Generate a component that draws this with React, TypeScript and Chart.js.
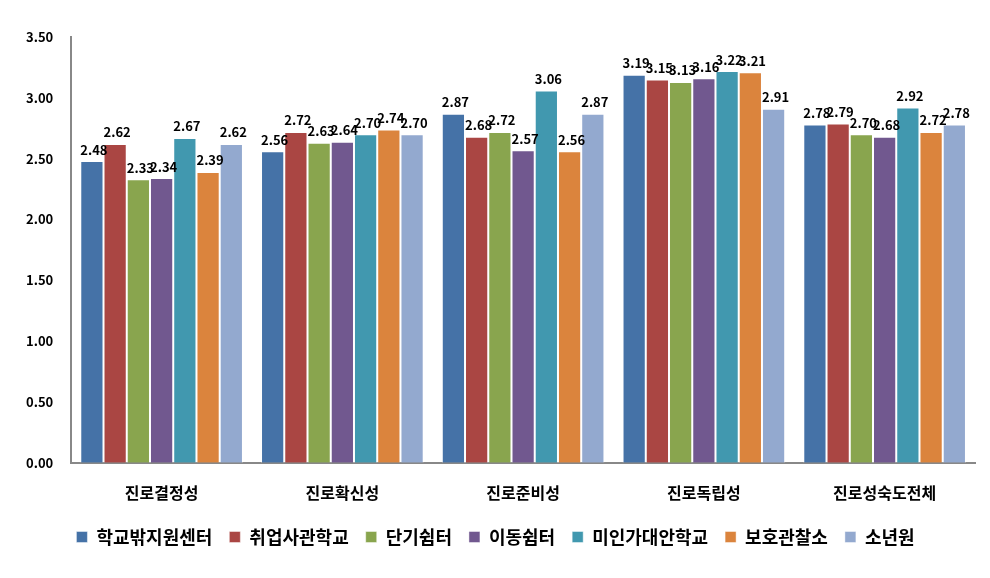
import React, { useEffect, useRef } from "react";
import { Chart, registerables } from "chart.js";

Chart.register(...registerables);

const categories = ["진로결정성", "진로확신성", "진로준비성", "진로독립성", "진로성숙도전체"];
const seriesNames = ["학교밖지원센터", "취업사관학교", "단기쉼터", "이동쉼터", "미인가대안학교", "보호관찰소", "소년원"];
const s1 = [2.48, 2.56, 2.87, 3.19, 2.78];
const s2 = [2.62, 2.72, 2.68, 3.15, 2.79];
const s3 = [2.33, 2.63, 2.72, 3.13, 2.70];
const s4 = [2.34, 2.64, 2.57, 3.16, 2.68];
const s5 = [2.67, 2.70, 3.06, 3.22, 2.92];
const s6 = [2.39, 2.74, 2.56, 3.21, 2.72];
const s7 = [2.62, 2.70, 2.87, 2.91, 2.78];
const colors = ["#4572A7", "#AA4643", "#89A54E", "#71588F", "#4198AF", "#DB843D", "#93A9CF"];

const FONT = "'Noto Sans CJK KR', 'Noto Sans', sans-serif";

const labelPlugin = {
  id: "barLabels",
  afterDatasetsDraw(chart: any) {
    const ctx = chart.ctx;
    ctx.save();
    ctx.font = "bold 13px " + FONT;
    ctx.fillStyle = "#000";
    ctx.textAlign = "center";
    ctx.textBaseline = "bottom";
    chart.data.datasets.forEach((ds: any, i: number) => {
      const meta = chart.getDatasetMeta(i);
      meta.data.forEach((el: any, j: number) => {
        ctx.fillText(Number(ds.data[j]).toFixed(2), el.x + 2, el.y - 5);
      });
    });
    ctx.restore();
  },
};

const legendShift = {
  id: "legendShift",
  afterLayout(chart: any) {
    const lg = chart.legend;
    if (lg) {
      lg.top -= 5;
      lg.bottom -= 5;
    }
  },
};

export default function App() {
  const ref = useRef<HTMLCanvasElement>(null);
  useEffect(() => {
    document.body.style.margin = "0";
    const all = [s1, s2, s3, s4, s5, s6, s7];
    const chart = new Chart(ref.current!, {
      type: "bar",
      data: {
        labels: categories,
        datasets: all.map((d, i) => ({
          label: seriesNames[i],
          data: d,
          backgroundColor: colors[i],
          borderColor: "rgba(255,255,255,0.6)",
          borderWidth: { left: 1, right: 1, top: 1, bottom: 0 },
          categoryPercentage: 0.9,
          barPercentage: 1.0,
        })),
      },
      options: {
        animation: false,
        responsive: false,
        maintainAspectRatio: false,
        layout: { padding: { top: 37, right: 15, left: 16, bottom: 17 } },
        plugins: {
          legend: {
            position: "bottom",
            labels: {
              font: { size: 18, weight: "bold", family: FONT },
              color: "#000",
              boxWidth: 11,
              boxHeight: 11,
              padding: 17,
            },
          },
          tooltip: { enabled: false },
        },
        scales: {
          x: {
            grid: { display: false },
            border: { color: "#888", width: 2 },
            ticks: { font: { size: 16, weight: "bold", family: FONT }, color: "#000", padding: 13 },
          },
          y: {
            min: 0,
            max: 3.5,
            grid: { display: false },
            border: { color: "#888", width: 2 },
            ticks: {
              stepSize: 0.5,
              font: { size: 13, weight: "bold", family: FONT },
              color: "#000",
              padding: 10,
              callback: (v: any) => Number(v).toFixed(2),
            },
          },
        },
      },
      plugins: [labelPlugin, legendShift],
    });
    return () => chart.destroy();
  }, []);
  return <canvas ref={ref} width={990} height={578} style={{ display: "block" }} />;
}
